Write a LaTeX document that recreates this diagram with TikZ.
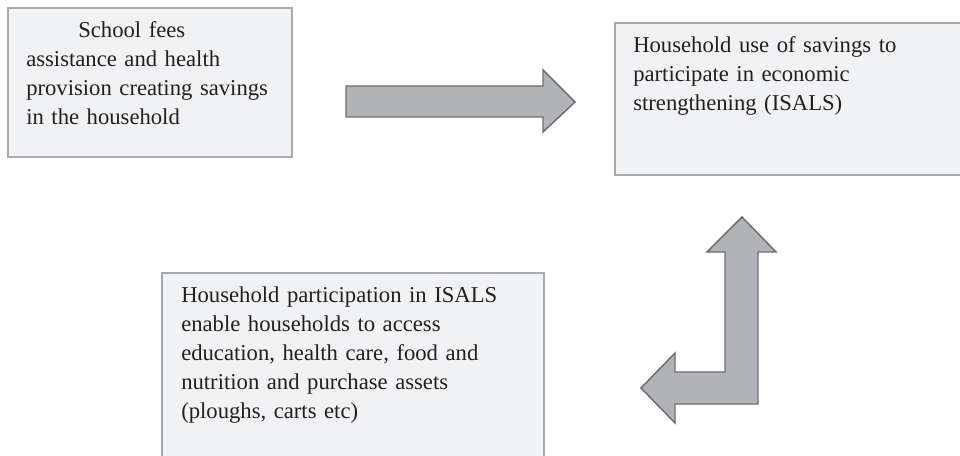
\documentclass[tikz,border=0pt]{standalone}
\usepackage{fontspec}
\setmainfont{Liberation Serif}
\usetikzlibrary{positioning}
\definecolor{boxfill}{HTML}{F1F2F4}
\definecolor{boxline}{HTML}{A7A9AC}
\definecolor{arrowfill}{HTML}{B2B3B6}
\definecolor{arrowline}{HTML}{6D6E71}
\definecolor{textcol}{HTML}{231F20}

\begin{document}
\begin{tikzpicture}[x=0.75pt,y=-0.75pt]
  \tikzstyle{panel}=[draw=boxline,fill=boxfill,line width=1.5pt,inner sep=0pt,anchor=north west]
  \tikzstyle{words}=[inner sep=0pt,text width=240pt,align=left,text=textcol,
    font=\fontsize{17pt}{21.75pt}\selectfont]
  \tikzstyle{blockarrow}=[draw=arrowline,fill=arrowfill,line width=1.1pt,line join=miter]
  \clip (0,0) rectangle (960,456);
  % the three boxes
  \node[panel,minimum width=213pt,minimum height=111.75pt] (fees) at (7,7) {};
  \node[panel,minimum width=270pt,minimum height=114pt] (savings) at (614,22) {};
  \node[panel,minimum width=286.5pt,minimum height=150pt] (access) at (161,272) {};
  \node[words,below right=23.25pt and 14.25pt of fees.north west,anchor=base west] (feestext)
    {\hspace*{39pt}School fees\\assistance and health\\provision creating savings\\in the household};
  \node[words,below right=23.25pt and 14.25pt of savings.north west,anchor=base west] (savingstext)
    {Household use of savings to\\participate in economic\\strengthening (ISALS)};
  \node[words,below right=22.5pt and 15pt of access.north west,anchor=base west] (accesstext)
    {Household participation in ISALS\\enable households to access\\education, health care, food and\\nutrition and purchase assets\\(ploughs, carts etc)};
  % arrow from first box to second
  \draw[blockarrow] (346,86) -- (543,86) -- (543,70) -- (575,102) -- (543,132)
    -- (543,117) -- (346,117) -- cycle;
  % bent arrow, up and to the left
  \draw[blockarrow] (742,217) -- (776,252) -- (758,252) -- (758,404) -- (675,404)
    -- (675,423) -- (641,388) -- (675,353) -- (675,372) -- (725,372) -- (725,252)
    -- (707,252) -- cycle;
\end{tikzpicture}
\end{document}
